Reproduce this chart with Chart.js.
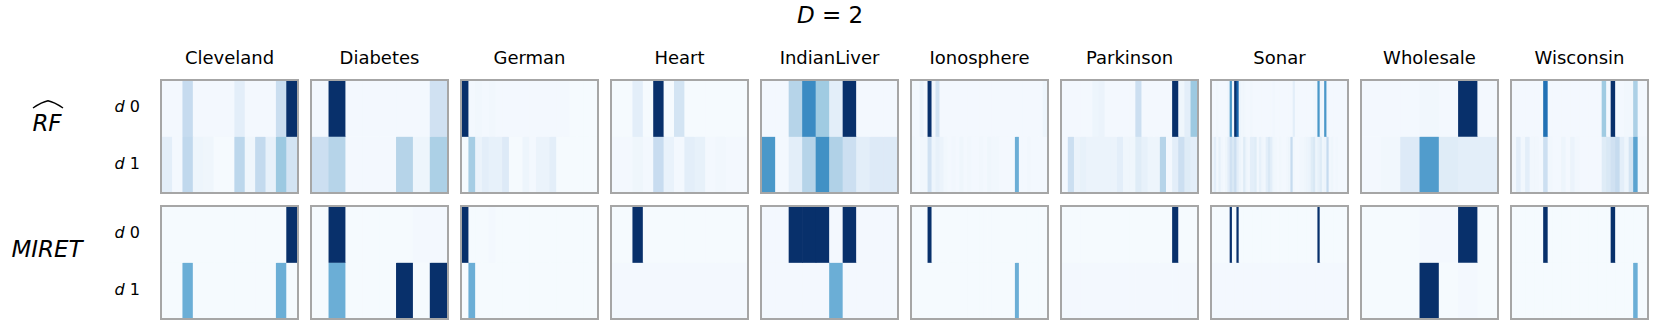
<!DOCTYPE html>
<html>
<head>
<meta charset="utf-8">
<script src="https://cdn.jsdelivr.net/npm/chart.js@4.4.1/dist/chart.umd.min.js"></script>
<style>
  body { margin: 0; background: #fff; font-family: 'DejaVu Sans', sans-serif; color: #000; }
  #fig { position: relative; width: 1661px; height: 332px; overflow: hidden; }
  .lbl { position: absolute; white-space: nowrap; }
  .panel { position: absolute; width: 139px; height: 115px; border: 2px solid #a6a6a6; box-sizing: border-box; }
  .panel canvas { display: block; }
</style>
</head>
<body>
<div id="fig"></div>
<script>
// datasets shown as columns
const datasetNames = ['Cleveland', 'Diabetes', 'German', 'Heart', 'IndianLiver',
                      'Ionosphere', 'Parkinson', 'Sonar', 'Wholesale', 'Wisconsin'];
const depthLabels = ['0', '1'];

// feature importances per depth (0..1 on the Blues scale)
const clevelandRF = [
  [0.02,0.02,0.25,0.02,0.02,0.02,0.02,0.1,0.02,0.02,0.02,0.23,1],
  [0.1,0.02,0.27,0.05,0.04,0.01,0.01,0.28,0.04,0.26,0.08,0.38,0.18]
];
const clevelandMIRET = [
  [0.01,0.01,0.01,0.01,0.01,0.01,0.01,0.01,0.01,0.01,0.01,0.01,1],
  [0.01,0.01,0.5,0.01,0.01,0.01,0.01,0.01,0.01,0.01,0.01,0.5,0.01]
];
const diabetesRF = [
  [0.02,1,0.02,0.02,0.02,0.02,0.02,0.2],
  [0.22,0.3,0.02,0.02,0.02,0.3,0.05,0.33]
];
const diabetesMIRET = [
  [0.01,1,0.01,0.01,0.01,0.01,0.02,0.02],
  [0.01,0.5,0.01,0.01,0.01,1,0.01,1]
];
const germanRF = [
  [1,0.02,0.03,0.02,0.03,0.02,0.02,0.02,0.02,0.02,0.02,0.02,0.02,0.02,0.02,0.02,0.01,0.01,0.01,0.01],
  [0.01,0.35,0.06,0.1,0.08,0.08,0.13,0.01,0.01,0.05,0.02,0.06,0.06,0.1,0.01,0.01,0.01,0.01,0.01,0.01]
];
const germanMIRET = [
  [1,0.01,0.01,0.01,0.02,0.01,0.01,0.01,0.01,0.01,0.01,0.01,0.01,0.01,0.01,0.01,0.01,0.01,0.01,0.01],
  [0,0.5,0.01,0.01,0.01,0.01,0.01,0.01,0.01,0.01,0.01,0.01,0.01,0.01,0.01,0.01,0.01,0.01,0.01,0.01]
];
const heartRF = [
  [0.01,0.01,0.1,0.01,1,0.01,0.18,0.01,0.01,0.01,0.01,0.01,0.01],
  [0.02,0.02,0.04,0.02,0.24,0.07,0.02,0.1,0.08,0.02,0.03,0.02,0.02]
];
const heartMIRET = [
  [0.01,0.01,1,0.01,0.01,0.01,0.01,0.01,0.01,0.01,0.01,0.01,0.01],
  [0.02,0.02,0.02,0.02,0.02,0.02,0.02,0.02,0.02,0.02,0.02,0.02,0.02]
];
const indianLiverRF = [
  [0.02,0.02,0.3,0.65,0.37,0.1,1,0.02,0.02,0.02],
  [0.6,0.02,0.1,0.3,0.63,0.32,0.22,0.1,0.13,0.13]
];
const indianLiverMIRET = [
  [0.02,0.02,1,1,1,0.02,1,0.02,0.02,0.02],
  [0.02,0.02,0.02,0.02,0.02,0.5,0.02,0.02,0.02,0.02]
];
const ionosphereRF = [
  [0.02,0.02,0.06,0.02,1,0.03,0.18,0.02,0.02,0.02, 0.02,0.02,0.02,0.02,0.02,0.02,0.02,0.02,0.02,0.02,
   0.02,0.02,0.02,0.02,0.02,0.02,0.02,0.02,0.02,0.02, 0.02,0.02,0.02,0.05],
  [0.03,0.02,0.03,0.03,0.2,0.05,0.08,0.06,0.03,0.02, 0.03,0.02,0.04,0.02,0.03,0.02,0.02,0.03,0.02,0.04,
   0.03,0.03,0.02,0.02,0.02,0.02,0.5,0.02,0.02,0.03, 0.02,0.02,0.02,0.02]
];
const ionosphereMIRET = [
  [0.01,0.01,0.01,0.01,1,0.01,0.01,0.01,0.01,0.01, 0.01,0.01,0.01,0.01,0.01,0.01,0.01,0.01,0.01,0.01,
   0.01,0.01,0.01,0.01,0.01,0.01,0.01,0.01,0.01,0.01, 0.01,0.01,0.01,0.01],
  [0.01,0.01,0.01,0.01,0.01,0.01,0.01,0.01,0.01,0.01, 0.01,0.01,0.01,0.01,0.01,0.01,0.01,0.01,0.01,0.01,
   0.01,0.01,0.01,0.01,0.01,0.01,0.5,0.01,0.01,0.01, 0.01,0.01,0.01,0.01]
];
const parkinsonRF = [
  [0.02,0.02,0.02,0.02,0.02,0.05,0.06,0.02,0.02,0.02,0.02,0.02,0.22,0.02,0.02,0.02,0.02,0.02,1,0.04,0.1,0.38],
  [0.02,0.22,0.06,0.08,0.06,0.06,0.06,0.06,0.06,0.1,0.04,0.04,0.12,0.08,0.05,0.05,0.3,0.02,0.1,0.22,0.12,0.1]
];
const parkinsonMIRET = [
  [0.01,0.01,0.01,0.01,0.01,0.01,0.01,0.01,0.01,0.01,0.01,0.01,0.01,0.01,0.01,0.01,0.01,0.01,1,0.01,0.01,0.01],
  [0.02,0.02,0.02,0.02,0.02,0.02,0.02,0.02,0.02,0.02,0.02,0.02,0.02,0.02,0.02,0.02,0.02,0.02,0.02,0.02,0.02,0.02]
];
const sonarRF = [
  [0.02,0.02,0.03,0.02,0.02,0.02,0.02,0.05,0.6,0.04, 1,0.8,0.05,0.03,0.03,0.02,0.02,0.03,0.02,0.02,
   0.02,0.02,0.02,0.02,0.02,0.02,0.02,0.03,0.02,0.02, 0.02,0.02,0.02,0.02,0.02,0.02,0.1,0.02,0.02,0.02,
   0.02,0.02,0.02,0.02,0.02,0.03,0.03,0.6,0.04,0.03, 0.6,0.03,0.02,0.02,0.02,0.02,0.02,0.02,0.02,0.02],
  [0.05,0.1,0.03,0.08,0.03,0.02,0.04,0.1,0.2,0.15, 0.22,0.1,0.05,0.03,0.12,0.05,0.03,0.1,0.1,0.12,
   0.03,0.08,0.04,0.03,0.1,0.15,0.1,0.04,0.03,0.02, 0.03,0.02,0.02,0.03,0.04,0.25,0.03,0.02,0.02,0.03,
   0.03,0.04,0.05,0.06,0.12,0.15,0.05,0.08,0.12,0.04, 0.05,0.25,0.03,0.04,0.02,0.03,0.02,0.02,0.02,0.02]
];
const sonarMIRET = [
  [0.01,0.01,0.01,0.01,0.01,0.01,0.01,0.01,1,0.01, 0.01,1,0.01,0.01,0.01,0.01,0.01,0.01,0.01,0.01,
   0.01,0.01,0.01,0.01,0.01,0.01,0.01,0.01,0.01,0.01, 0.01,0.01,0.01,0.01,0.01,0.01,0.01,0.01,0.01,0.01,
   0.01,0.01,0.01,0.01,0.01,0.01,0.01,1,0.01,0.01, 0.01,0.01,0.01,0.01,0.01,0.01,0.01,0.01,0.01,0.01],
  [0.02,0.02,0.02,0.02,0.02,0.02,0.02,0.02,0.02,0.02, 0.02,0.02,0.02,0.02,0.02,0.02,0.02,0.02,0.02,0.02,
   0.02,0.02,0.02,0.02,0.02,0.02,0.02,0.02,0.02,0.02, 0.02,0.02,0.02,0.02,0.02,0.02,0.02,0.02,0.02,0.02,
   0.02,0.02,0.02,0.02,0.02,0.02,0.02,0.02,0.02,0.02, 0.02,0.02,0.02,0.02,0.02,0.02,0.02,0.02,0.02,0.02]
];
const wholesaleRF = [
  [0.02,0.02,0.02,0.03,0.02,1,0.02],
  [0.02,0.03,0.13,0.58,0.12,0.1,0.1]
];
const wholesaleMIRET = [
  [0.01,0.01,0.01,0.02,0.02,1,0.01],
  [0.01,0.01,0.01,1,0.01,0.02,0.01]
];
const wisconsinRF = [
  [0.02,0.02,0.02,0.02,0.02,0.02,0.02,0.75,0.02,0.02, 0.02,0.02,0.02,0.02,0.02,0.02,0.02,0.02,0.02,0.02,
   0.37,0.02,1,0.02,0.02,0.03,0.03,0.33,0.02,0.02],
  [0.03,0.1,0.03,0.1,0.03,0.03,0.02,0.22,0.03,0.02, 0.02,0.05,0.02,0.06,0.03,0.02,0.02,0.02,0.02,0.02,
   0.12,0.15,0.2,0.25,0.1,0.05,0.18,0.55,0.03,0.03]
];
const wisconsinMIRET = [
  [0.01,0.01,0.01,0.01,0.01,0.01,0.01,1,0.01,0.01, 0.01,0.01,0.01,0.01,0.01,0.01,0.01,0.01,0.01,0.01,
   0.01,0.01,1,0.01,0.01,0.01,0.01,0.01,0.01,0.01],
  [0.01,0.01,0.01,0.01,0.01,0.01,0.01,0.01,0.01,0.01, 0.01,0.01,0.01,0.01,0.01,0.01,0.01,0.01,0.01,0.01,
   0.01,0.01,0.01,0.01,0.01,0.01,0.01,0.5,0.01,0.01]
];

const rfRows = [clevelandRF, diabetesRF, germanRF, heartRF, indianLiverRF,
                ionosphereRF, parkinsonRF, sonarRF, wholesaleRF, wisconsinRF];
const miretRows = [clevelandMIRET, diabetesMIRET, germanMIRET, heartMIRET, indianLiverMIRET,
                   ionosphereMIRET, parkinsonMIRET, sonarMIRET, wholesaleMIRET, wisconsinMIRET];

// matplotlib "Blues"
const bluesStops = ['#f7fbff','#deebf7','#c6dbef','#9ecae1','#6baed6','#4292c6','#2171b5','#08519c','#08306b'];
function blues(v) {
  const t = Math.max(0, Math.min(1, v)) * (bluesStops.length - 1);
  const i = Math.min(Math.floor(t), bluesStops.length - 2);
  const f = t - i;
  const a = parseInt(bluesStops[i].slice(1), 16), b = parseInt(bluesStops[i + 1].slice(1), 16);
  const ch = s => Math.round(((a >> s) & 255) * (1 - f) + ((b >> s) & 255) * f);
  return `rgb(${ch(16)},${ch(8)},${ch(0)})`;
}

const fig = document.getElementById('fig');

function addLabel(html, css) {
  const el = document.createElement('div');
  el.className = 'lbl';
  el.innerHTML = html;
  Object.assign(el.style, css);
  fig.appendChild(el);
  return el;
}

// title
addLabel('<i>D</i> = 2', { left: '730px', width: '200px', top: '2px', height: '26px', lineHeight: '26px',
  textAlign: 'center', fontSize: '23px' });

// method labels
addLabel(`<span style="position:relative;display:inline-block">
  <svg width="32" height="9" style="position:absolute;left:0px;top:-10px" viewBox="0 0 32 9">
    <path d="M1,8 Q10,2 16,0.8 Q22,2 31,8" fill="none" stroke="#000" stroke-width="1.4"/>
  </svg><i>RF</i></span>`,
  { left: '0px', width: '94px', top: '110px', height: '26px', lineHeight: '26px', textAlign: 'center', fontSize: '23px' });
addLabel('<i>MIRET</i>', { left: '0px', width: '94px', top: '236px', height: '26px', lineHeight: '26px',
  textAlign: 'center', fontSize: '23px' });

const panelTops = [79, 205];
const methodRows = [rfRows, miretRows];

panelTops.forEach((top, r) => {
  depthLabels.forEach((d, k) => {
    const cy = top + 115 * (k === 0 ? 0.25 : 0.75);
    addLabel(`<i>d</i> ${d}`, { left: '90px', width: '50px', top: (cy - 11) + 'px', height: '20px',
      lineHeight: '20px', textAlign: 'right', fontSize: '16px' });
  });
});

datasetNames.forEach((name, c) => {
  const left = 160 + 150 * c;
  addLabel(name, { left: (left - 30) + 'px', width: '199px', top: '46px', height: '24px', lineHeight: '24px',
    textAlign: 'center', fontSize: '18px' });

  methodRows.forEach((rows, r) => {
    const [vals0, vals1] = rows[c];
    const box = document.createElement('div');
    box.className = 'panel';
    box.style.left = left + 'px';
    box.style.top = panelTops[r] + 'px';
    const canvas = document.createElement('canvas');
    canvas.width = 135;
    canvas.height = 111;
    box.appendChild(canvas);
    fig.appendChild(box);

    new Chart(canvas, {
      type: 'bar',
      data: {
        labels: vals0.map((_, i) => 'f' + i),
        datasets: [
          { label: 'd 0', data: vals0.map(() => [1, 2]), backgroundColor: vals0.map(blues), grouped: false },
          { label: 'd 1', data: vals1.map(() => [0, 1]), backgroundColor: vals1.map(blues), grouped: false }
        ]
      },
      options: {
        responsive: false,
        animation: false,
        layout: { padding: 0 },
        plugins: { legend: { display: false }, tooltip: { enabled: false } },
        datasets: { bar: { barPercentage: 1, categoryPercentage: 1, borderWidth: 0 } },
        scales: {
          x: { display: false },
          y: { display: false, min: 0, max: 2 }
        }
      }
    });
  });
});
</script>
</body>
</html>
